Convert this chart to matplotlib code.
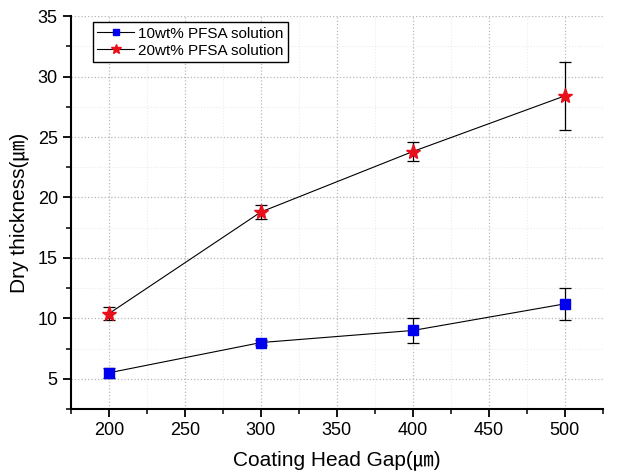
import matplotlib
matplotlib.use("Agg")
import matplotlib.pyplot as plt
from matplotlib.ticker import MultipleLocator
from matplotlib.lines import Line2D

FONT = ["Liberation Sans", "Noto Sans CJK JP", "DejaVu Sans"]
plt.rcParams["font.family"] = FONT

gap = [200, 300, 400, 500]
t10 = [5.5, 8.0, 9.0, 11.2]
e10 = [0.4, 0.2, 1.0, 1.3]
t20 = [10.4, 18.8, 23.8, 28.4]
e20 = [0.55, 0.6, 0.8, 2.8]
labels = ["10wt% PFSA solution", "20wt% PFSA solution"]

BLUE, RED = "#0000ee", "#e8101a"

fig = plt.figure(figsize=(6.19, 4.74), dpi=100)
ax = fig.add_axes([0.1147, 0.137, 0.859, 0.829])

ax.errorbar(gap, t10, yerr=e10, color="black", lw=0.8, marker="s", ms=6.5,
            mfc=BLUE, mec=BLUE, ecolor="black", elinewidth=0.9,
            capsize=4, capthick=0.9, zorder=3)
ax.errorbar(gap, t20, yerr=e20, color="black", lw=0.8, marker="*", ms=11,
            mfc=RED, mec=RED, ecolor="black", elinewidth=0.9,
            capsize=4, capthick=0.9, zorder=3)

ax.set_xlim(175, 525)
ax.set_ylim(2.5, 35)
ax.xaxis.set_major_locator(MultipleLocator(50))
ax.xaxis.set_minor_locator(MultipleLocator(25))
ax.yaxis.set_major_locator(MultipleLocator(5))
ax.yaxis.set_minor_locator(MultipleLocator(2.5))
ax.grid(which="major", color="#b8b8b8", ls=":", lw=0.9)
ax.grid(which="minor", color="#ebebeb", ls=":", lw=0.8)
ax.set_axisbelow(True)

for s in ["top", "right"]:
    ax.spines[s].set_visible(False)
for s in ["left", "bottom"]:
    ax.spines[s].set_linewidth(1.5)
ax.tick_params(which="major", direction="out", length=6, width=1.3, labelsize=13)
ax.tick_params(which="minor", direction="out", length=3.5, width=1.1)

ax.set_xlabel("Coating Head Gap(㎛)", fontsize=15, labelpad=8)
ax.set_ylabel("Dry thickness(㎛)", fontsize=15, labelpad=6)

handles = [
    Line2D([], [], color="black", lw=0.8, marker="s", ms=4.5, mfc=BLUE, mec=BLUE),
    Line2D([], [], color="black", lw=0.8, marker="*", ms=7, mfc=RED, mec=RED),
]
leg = ax.legend(handles, labels, loc="upper left", bbox_to_anchor=(0.035, 0.993),
                fontsize=11, frameon=True, fancybox=False, edgecolor="black",
                framealpha=1, handlelength=2.4, borderpad=0.3, labelspacing=0.2,
                handletextpad=0.3, borderaxespad=0.2)
leg.get_frame().set_linewidth(1.0)

fig.savefig("out.png", dpi=100)
